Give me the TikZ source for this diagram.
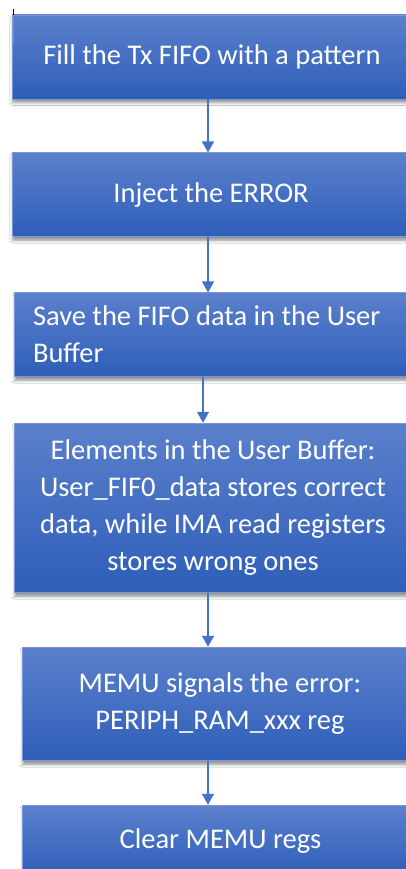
\documentclass[tikz,border=0pt]{standalone}
\usepackage{fontspec}
\setmainfont{Carlito}
\usetikzlibrary{arrows.meta,shadows.blur}
\definecolor{boxtop}{HTML}{5B80CC}
\definecolor{boxbot}{HTML}{2E5EB9}
\definecolor{arrowblue}{HTML}{4472C4}
\definecolor{boxedge}{HTML}{7A98D6}
\definecolor{markorange}{HTML}{B08A3A}
\begin{document}
\begin{tikzpicture}[x=1pt,y=-1pt,
  flowbox/.style={rectangle, inner sep=0pt, text=white,
    font=\fontsize{28.5}{37}\selectfont,
    top color=boxtop, bottom color=boxbot, draw=boxedge, line width=0.5pt,
    blur shadow={shadow xshift=1pt, shadow yshift=-3.5pt, shadow blur radius=3pt, shadow opacity=45},
    align=center},
  flowarrow/.style={draw=arrowblue, line width=1.3pt, -{Triangle[width=12pt,length=11pt]}}]
\useasboundingbox (0,0) rectangle (406,869);
\clip (0,0) rectangle (406,869);
\fill[white] (0,0) rectangle (406,869);

\node[flowbox, minimum width=400pt, minimum height=84pt] (b1) at (212,57)
  {Fill the Tx FIFO with a pattern};
\node[flowbox, minimum width=398pt, minimum height=84pt] (b2) at (211,194.7)
  {Inject the ERROR};
\node[flowbox, minimum width=396pt, minimum height=84pt, text width=358pt, inner xsep=19pt, align=flush left] (b3) at (212,334.7)
  {Save the FIFO data in the User\\Buffer};
\node[flowbox, minimum width=398pt, minimum height=169.7pt] (b4) at (213,507.85)
  {Elements in the User Buffer:\\User\_FIF0\_data stores correct\\data, while IMA read registers\\stores wrong ones};
\node[flowbox, minimum width=396pt, minimum height=113.7pt] (b5) at (220,703.85)
  {MEMU signals the error:\\PERIPH\_RAM\_xxx reg};
\node[flowbox, minimum width=397pt, minimum height=72pt] (b6) at (220.5,841)
  {Clear MEMU regs};

\coordinate (x1) at (208,0);
\coordinate (x3) at (203,0);
\draw[flowarrow] (b1.south -| x1) -- (b2.north -| x1);
\draw[flowarrow] (b2.south -| x1) -- (b3.north -| x1);
\draw[flowarrow] (b3.south -| x3) -- (b4.north -| x3);
\draw[flowarrow] (b4.south -| x1) -- (b5.north -| x1);
\draw[flowarrow] (b5.south -| x1) -- (b6.north -| x1);

\draw[black, line width=0.8pt] (13,9) -- (13,15);
\draw[markorange, line width=0.8pt] (13,15) -- (13,43);
\end{tikzpicture}
\end{document}
